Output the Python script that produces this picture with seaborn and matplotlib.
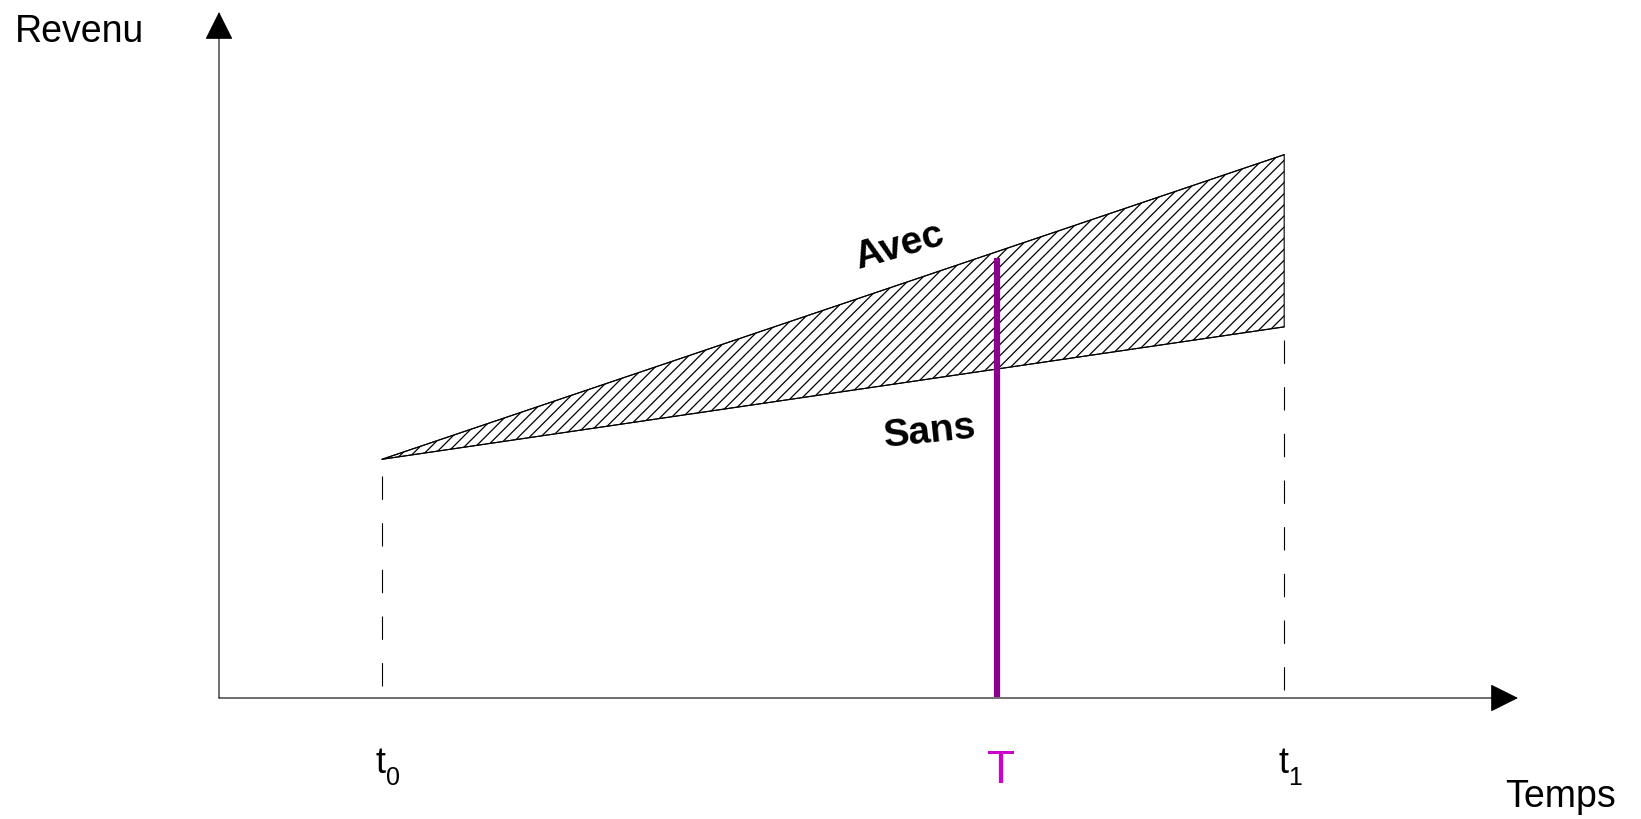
import numpy as np
import pandas as pd
import matplotlib.pyplot as plt
import seaborn as sns

# Data (arbitrary units: time on x, revenue on y)
times = [1.255, 8.2]          # t0, t1
avec = [3.48, 7.92]           # revenue with the project
sans = [3.48, 5.41]           # revenue without the project
t_mark = 5.99                 # T
t_mark_top = 6.41
tick_subs = ['0', '1']        # t0, t1

sns.set_style('white')
plt.rcParams['font.family'] = ['Liberation Sans', 'DejaVu Sans']
plt.rcParams['text.color'] = 'black'
plt.rcParams['hatch.linewidth'] = 0.9

df = pd.DataFrame({
    'temps': times + times,
    'revenu': avec + sans,
    'cas': ['Avec'] * 2 + ['Sans'] * 2,
})

fig = plt.figure(figsize=(16.41, 8.2), dpi=100)
ax = fig.add_axes([219 / 1641, 121 / 820, 1299 / 1641, 686 / 820])
ax.set_xlim(0, 10)
ax.set_ylim(0, 10)
ax.axis('off')

# Hatched gap between the two revenue paths
ax.fill_between(times, sans, avec, facecolor='none', edgecolor='black',
                hatch='///', linewidth=0.8)
sns.lineplot(data=df, x='temps', y='revenu', hue='cas',
             palette=['black', 'black'], linewidth=0.8, legend=False, ax=ax)

# Dashed guides from t0 and t1 down to the time axis
gaps = [0.25, 0.19]
for t, s, g in zip(times, sans, gaps):
    ax.plot([t, t], [s - g, 0.05], color='black', linewidth=0.8,
            linestyle=(0, (21, 21)), clip_on=False)

# Axes with arrow heads
arrow = dict(arrowstyle='-|>,head_length=18,head_width=9', mutation_scale=1,
             color='black', linewidth=0.8, shrinkA=0, shrinkB=0)
ax.annotate('', xy=(10, 0), xytext=(0, 0), arrowprops=arrow, annotation_clip=False)
ax.annotate('', xy=(0, 10), xytext=(0, 0), arrowprops=arrow, annotation_clip=False)

# Vertical T line
ax.plot([t_mark, t_mark], [0.02, t_mark_top], color='#8B008B', linewidth=4.5,
        solid_capstyle='butt')

# Labels
ax.text(-1.57, 9.577, 'Revenu', fontsize=27, ha='left', va='baseline')
ax.text(9.90, -1.574, 'Temps', fontsize=27, ha='left', va='baseline')
for t, sub in zip(times, tick_subs):
    ax.text(t + 0.03, -1.079, 't', fontsize=26, ha='right', va='baseline')
    ax.text(t + 0.03, -1.25, sub, fontsize=18, ha='left', va='baseline')
ax.text(t_mark + 0.03, -1.22, 'T', fontsize=33, color='#CC00CC',
        ha='center', va='baseline')
ax.text(5.24, 6.59, 'Avec', fontsize=28, fontweight='bold', rotation=16,
        ha='center', va='center', rotation_mode='anchor')
ax.text(5.47, 3.89, 'Sans', fontsize=28, fontweight='bold', rotation=6,
        ha='center', va='center', rotation_mode='anchor')

fig.savefig('out.png', dpi=100)
